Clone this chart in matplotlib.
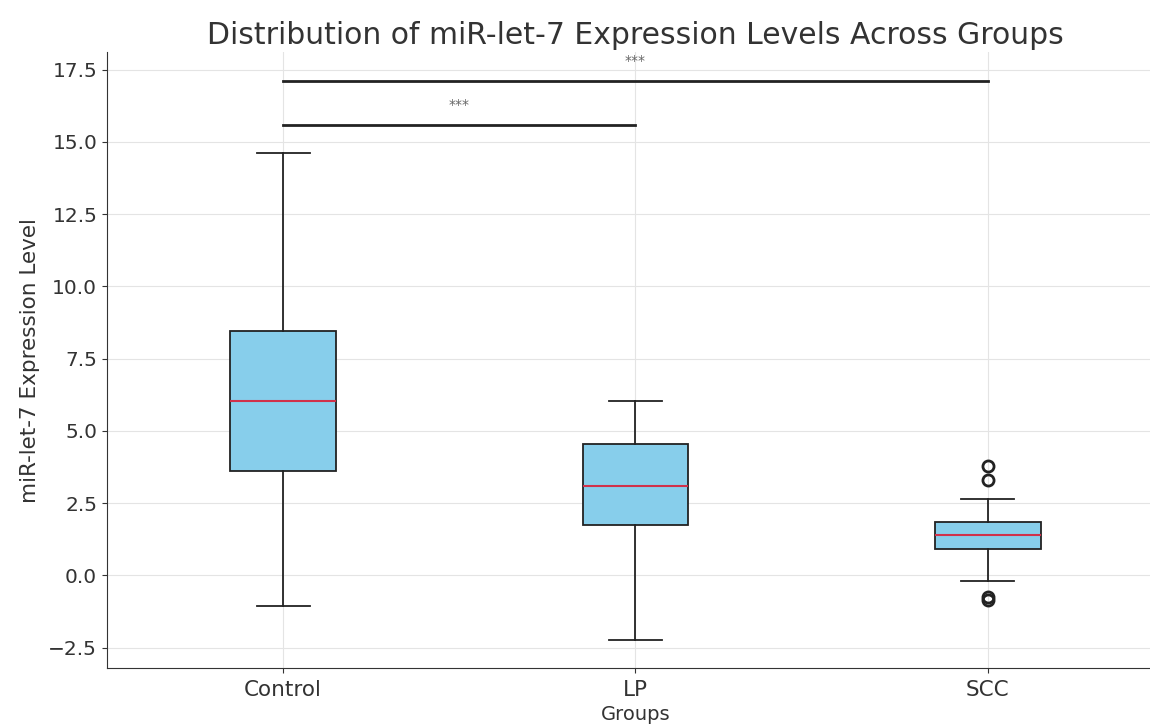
import matplotlib
matplotlib.use("Agg")
import matplotlib.pyplot as plt

# Data
groups = ['Control', 'LP', 'SCC']
whisker_low = [-1.05, -2.25, -0.2]
q1 = [3.6, 1.75, 0.9]
medians = [6.05, 3.1, 1.4]
q3 = [8.45, 4.55, 1.85]
whisker_high = [14.6, 6.05, 2.65]
outliers = [[], [], [3.8, 3.3, -0.75, -0.85]]

# significance bars: (group a, group b, height, label)
sig_pairs = [(0, 1, 15.6, '***'), (0, 2, 17.1, '***')]

plt.rcParams['font.family'] = ['DejaVu Sans']
text_col = '#333333'

fig = plt.figure(figsize=(11.5, 7.26), dpi=100)
ax = fig.add_axes([0.093, 0.080, 0.919, 0.848])

stats = []
for i, g in enumerate(groups):
    stats.append({'label': g, 'whislo': whisker_low[i], 'q1': q1[i], 'med': medians[i],
                  'q3': q3[i], 'whishi': whisker_high[i], 'fliers': outliers[i]})

positions = [1, 2, 3]
ax.bxp(stats, positions=positions, widths=0.3, patch_artist=True,
       boxprops=dict(facecolor='#87CEEB', edgecolor='#222222', linewidth=1.3),
       medianprops=dict(color='#d0314a', linewidth=1.5),
       whiskerprops=dict(color='#222222', linewidth=1.3),
       capprops=dict(color='#222222', linewidth=1.3),
       flierprops=dict(marker='o', markerfacecolor='none', markeredgecolor='#222222',
                       markersize=8, markeredgewidth=2))

for a, b, h, lab in sig_pairs:
    ax.plot([positions[a], positions[b]], [h, h], color='#222222', linewidth=2)
    ax.text((positions[a] + positions[b]) / 2, h + 0.45, lab, ha='center', va='bottom',
            fontsize=10, color='#666666')

ax.set_xlim(0.5, 3.5)
ax.set_ylim(-3.2, 18.1)
ax.set_yticks([-2.5, 0.0, 2.5, 5.0, 7.5, 10.0, 12.5, 15.0, 17.5])
ax.grid(True, color='#e4e4e4', linewidth=0.8)
ax.set_axisbelow(True)
ax.tick_params(axis='y', labelsize=14.5, colors=text_col)
ax.tick_params(axis='x', labelsize=15.5, colors=text_col, pad=5)
ax.spines['top'].set_visible(False)
ax.spines['right'].set_visible(False)
ax.spines['left'].set_color('#333333')
ax.spines['bottom'].set_color('#333333')

ax.set_title('Distribution of miR-let-7 Expression Levels Across Groups', fontsize=21.5,
             color=text_col, pad=6)
ax.set_xlabel('Groups', fontsize=14, color=text_col, labelpad=4)
ax.set_ylabel('miR-let-7 Expression Level', fontsize=15.5, color=text_col, labelpad=6)

fig.savefig('out.png', dpi=100)
